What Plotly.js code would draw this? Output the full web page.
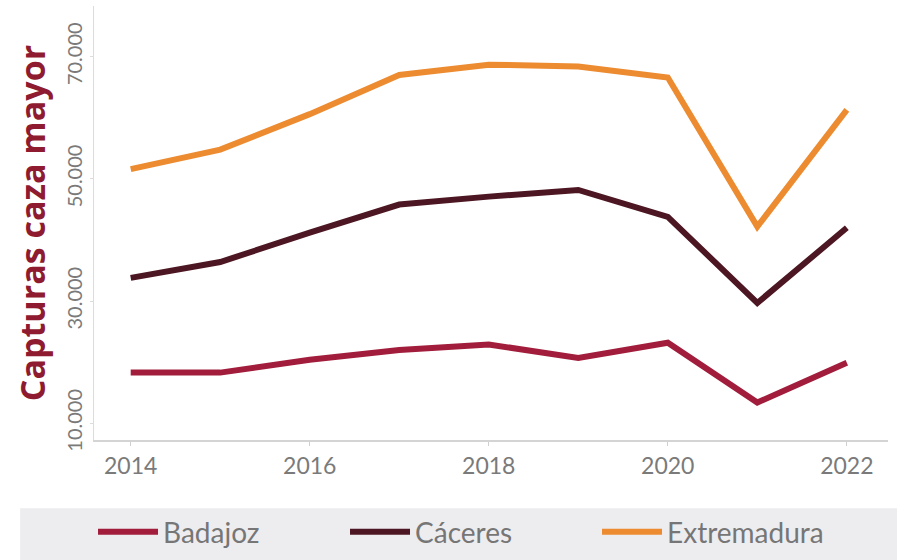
<!DOCTYPE html>
<html>
<head>
<meta charset="utf-8">
<script src="https://cdn.plot.ly/plotly-3.0.1.min.js"></script>
<style>html,body{margin:0;padding:0;background:#fff;}#chart{width:897px;height:560px;}</style>
</head>
<body>
<div id="chart"></div>
<script>
var years = [2014, 2015, 2016, 2017, 2018, 2019, 2020, 2021, 2022];
var badajoz = [18300, 18300, 20400, 22000, 22900, 20700, 23200, 13400, 19900];
var caceres = [33800, 36400, 41200, 45800, 47100, 48200, 43800, 29700, 42000];
var extremadura = [51600, 54800, 60600, 67000, 68700, 68400, 66600, 42200, 61300];
var seriesNames = ['Badajoz', 'Cáceres', 'Extremadura'];
var seriesColors = ['#a11d3b', '#4c1622', '#ec8b30'];
var xTickVals = [2014, 2016, 2018, 2020, 2022];
var yTickVals = [10000, 30000, 50000, 70000];
var yTickText = ['10.000', '30.000', '50.000', '70.000'];

var seriesData = [badajoz, caceres, extremadura];
var traces = seriesData.map(function (vals, i) {
  return {
    x: years, y: vals, type: 'scatter', mode: 'lines', name: seriesNames[i],
    line: {color: seriesColors[i], width: 6}
  };
});

var layout = {
  width: 897, height: 560,
  margin: {l: 94, r: 9, t: 6, b: 120, autoexpand: false},
  paper_bgcolor: '#ffffff', plot_bgcolor: '#ffffff',
  showlegend: true,
  xaxis: {
    range: [2013.59, 2022.46], tickvals: xTickVals, showgrid: false, zeroline: false,
    showline: true, linecolor: '#d4d4d4', linewidth: 2, automargin: false,
    ticks: 'outside', ticklen: 4, tickcolor: '#cfcfcf',
    tickfont: {family: 'Lato', size: 23, color: '#7a7a7a'}
  },
  yaxis: {
    range: [7270, 78300], tickvals: yTickVals, ticktext: yTickText, tickangle: -90,
    showgrid: false, zeroline: false, showline: true, linecolor: '#dcdcdc', linewidth: 1,
    ticks: 'outside', ticklen: 3, tickcolor: '#dcdcdc', automargin: false,
    tickfont: {family: 'Lato', size: 20, color: '#7a7a7a'},
    title: {text: 'Capturas caza mayor', standoff: 6,
      font: {family: 'Open Sans', size: 34, color: '#8e1b30', weight: 'bold'}}
  },
  shapes: [{
    type: 'rect', xref: 'paper', yref: 'paper', layer: 'below',
    x0: -0.093, x1: 1.02, y0: -0.157, y1: -0.30,
    fillcolor: '#ededf0', line: {width: 0}
  }],
  legend: {
    orientation: 'h', xref: 'container', yref: 'container', x: 0.1037, y: 0.05,
    xanchor: 'left', yanchor: 'middle', bgcolor: 'rgba(0,0,0,0)',
    entrywidth: 177, entrywidthmode: 'pixels', itemwidth: 60,
    font: {family: 'Lato', size: 28, color: '#767676'}
  }
};

Plotly.newPlot('chart', traces, layout, {displayModeBar: false, staticPlot: true});
</script>
</body>
</html>
